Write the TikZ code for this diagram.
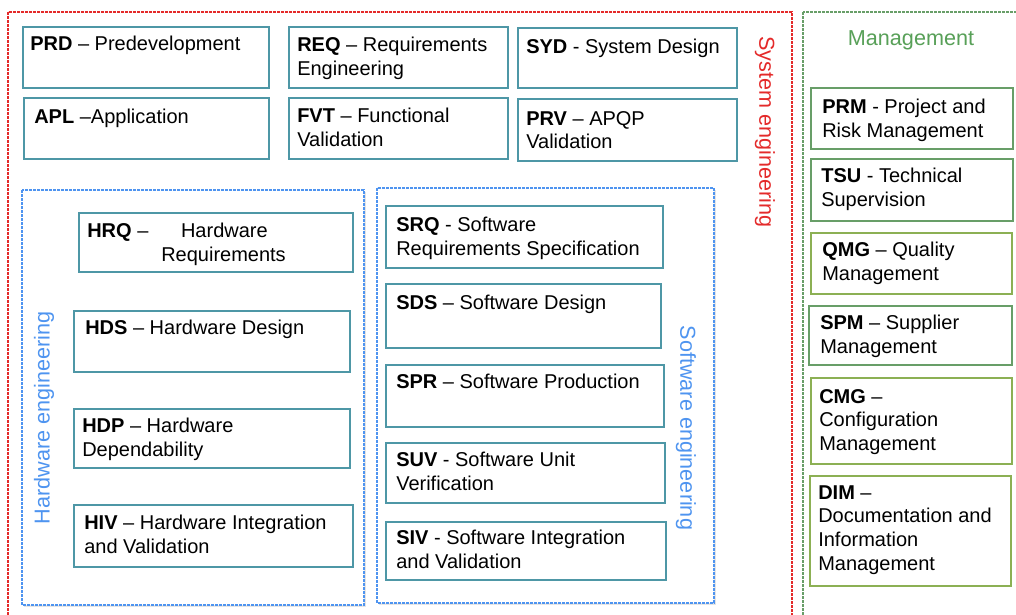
\documentclass[tikz,border=0pt]{standalone}
\usepackage{fontspec}
\setmainfont{Liberation Sans}
\definecolor{teal}{RGB}{78,151,166}
\definecolor{mgreen}{RGB}{104,158,104}
\definecolor{lgreen}{RGB}{140,176,84}
\definecolor{mtext}{RGB}{88,160,88}
\definecolor{sysred}{RGB}{228,42,42}
\definecolor{engblue}{RGB}{78,148,240}
\tikzset{
  procbox/.style={draw=#1, line width=1.3pt, rectangle, inner sep=0pt, fill=white},
  boxtext/.style={inner sep=0pt, align=left, font=\fontsize{15pt}{17.8pt}\selectfont},
  area/.style={draw=#1, line width=1pt, dash pattern=on 2pt off 1pt},
  arealabel/.style={text=#1, inner sep=0pt, font=\fontsize{16.2pt}{19pt}\selectfont},
}
% \procbox{name}{x1}{y1}{x2}{y2}{colour}{dx}{dy}{text}
\newcommand\procbox[9]{%
  \node[procbox=#6, anchor=north west,
        minimum width={(#4-#2)*0.75pt}, minimum height={(#5-#3)*0.75pt}] (#1) at (#2,#3) {};
  \node[boxtext, anchor=north west] (#1-t) at ([xshift=#7*0.75pt, yshift=-#8*0.75pt]#1.north west) {#9};
}
\begin{document}
\begin{tikzpicture}[x=0.75pt, y=-0.75pt]
\useasboundingbox (0,0) rectangle (1016,614);
\fill[white] (0,0) rectangle (1016,614);

% group frames
\draw[area=sysred] (8,12) rectangle (792,640);
\draw[area=mgreen] (803,12) rectangle (1030,640);
\fill[black!10] (24,192) rectangle (366,607);
\filldraw[area=engblue, fill=white] (22,190) rectangle (364,605);
\fill[black!10] (379,190) rectangle (716,605);
\filldraw[area=engblue, fill=white] (377,188) rectangle (714,603);

% group titles
\node[arealabel=sysred, rotate=-90] (sys) at (765,132) {System engineering};
\node[arealabel=engblue, rotate=90] (hw) at (44,418) {Hardware engineering};
\node[arealabel=engblue, rotate=-90] (sw) at (686,428) {Software engineering};
\node[arealabel=mtext] (mgmt) at (911,40) {Management};

% system engineering
\procbox{prd}{22}{26}{268}{87}{teal}{8}{10}{\textbf{PRD} – Predevelopment}
\procbox{req}{288}{26}{507}{87}{teal}{9}{11}{\textbf{REQ} – Requirements\\Engineering}
\procbox{syd}{517}{27}{736}{87}{teal}{9}{12}{\textbf{SYD} - System Design}
\procbox{apl}{23}{97}{268}{158}{teal}{11}{12}{\textbf{APL} –Application}
\procbox{fvt}{288}{97}{507}{158}{teal}{9}{11}{\textbf{FVT} – Functional\\Validation}
\procbox{prv}{517}{98}{736}{160}{teal}{9}{13}{\textbf{PRV} – APQP\\Validation}

% hardware engineering
\procbox{hrq}{78}{212}{352}{271}{teal}{9}{11}{\textbf{HRQ} –\hspace{24.5pt}Hardware\\\hspace*{55.5pt}Requirements}
\procbox{hds}{73}{310}{349}{371}{teal}{12}{10}{\textbf{HDS} – Hardware Design}
\procbox{hdp}{73}{408}{349}{467}{teal}{9}{10}{\textbf{HDP} – Hardware\\Dependability}
\procbox{hiv}{73}{504}{352}{566}{teal}{11}{11}{\textbf{HIV} – Hardware Integration\\and Validation}

% software engineering
\procbox{srq}{385}{205}{662}{267}{teal}{11}{12}{\textbf{SRQ} - Software\\Requirements Specification}
\procbox{sds}{385}{283}{660}{347}{teal}{11}{12}{\textbf{SDS} – Software Design}
\procbox{spr}{385}{364}{663}{426}{teal}{11}{10}{\textbf{SPR} – Software Production}
\procbox{suv}{385}{442}{664}{502}{teal}{11}{10}{\textbf{SUV} - Software Unit\\Verification}
\procbox{siv}{385}{521}{665}{579}{teal}{11}{9}{\textbf{SIV} - Software Integration\\and Validation}

% management
\procbox{prm}{810}{87}{1012}{148}{mgreen}{12}{12}{\textbf{PRM} - Project and\\Risk Management}
\procbox{tsu}{810}{158}{1012}{220}{mgreen}{11}{10}{\textbf{TSU} - Technical\\Supervision}
\procbox{qmg}{810}{232}{1011}{293}{lgreen}{12}{10}{\textbf{QMG} – Quality\\Management}
\procbox{spm}{808}{305}{1011}{364}{mgreen}{12}{10}{\textbf{SPM} – Supplier\\Management}
\procbox{cmg}{810}{377}{1011}{463}{lgreen}{9}{12}{\textbf{CMG} –\\Configuration\\Management}
\procbox{dim}{809}{475}{1010}{585}{lgreen}{9}{10}{\textbf{DIM} –\\Documentation and\\Information\\Management}
\end{tikzpicture}
\end{document}
